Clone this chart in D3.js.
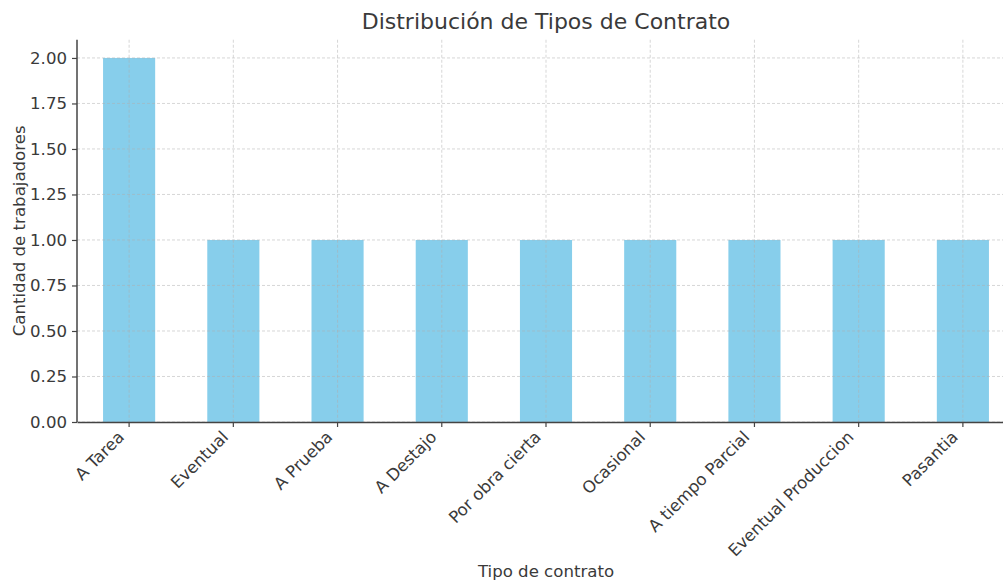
<!DOCTYPE html>
<html>
<head>
<meta charset="utf-8">
<script src="https://cdn.jsdelivr.net/npm/d3@7"></script>
<style>
  body { margin: 0; background: #fff; }
  svg { display: block; font-family: "DejaVu Sans", sans-serif; }
</style>
</head>
<body>
<div id="chart"></div>
<script>
const categories = ['A Tarea', 'Eventual', 'A Prueba', 'A Destajo', 'Por obra cierta',
  'Ocasional', 'A tiempo Parcial', 'Eventual Produccion', 'Pasantia'];
const counts = [2, 1, 1, 1, 1, 1, 1, 1, 1];
const yTicks = [0, 0.25, 0.5, 0.75, 1, 1.25, 1.5, 1.75, 2];

const width = 1003;
const height = 580;
const margin = { top: 39.75, right: -12, bottom: 158, left: 77 };
const textColor = '#3a3a3a';
const labelSize = 16.6;

const svg = d3.select('#chart')
  .append('svg')
  .attr('width', width)
  .attr('height', height);

const x = d3.scaleBand()
  .domain(categories)
  .range([margin.left, width - margin.right])
  .paddingInner(0.5)
  .paddingOuter(0.25);

const y = d3.scaleLinear()
  .domain([0, 2.1])
  .range([height - margin.bottom, margin.top]);

const x0 = margin.left, x1 = width - margin.right;
const y0 = y(0), yTop = y(2.1);

// Bars
svg.append('g')
  .selectAll('rect')
  .data(counts)
  .join('rect')
  .attr('x', (d, i) => x(categories[i]))
  .attr('y', d => y(d))
  .attr('width', x.bandwidth())
  .attr('height', d => y0 - y(d))
  .attr('fill', '#87ceeb');

// Grid (drawn over bars, dashed)
const grid = svg.append('g')
  .attr('stroke', '#b0b0b0')
  .attr('stroke-opacity', 0.5)
  .attr('stroke-width', 1)
  .attr('stroke-dasharray', '3,2');

grid.selectAll('.hg')
  .data(yTicks)
  .join('line')
  .attr('x1', x0).attr('x2', x1)
  .attr('y1', d => y(d)).attr('y2', d => y(d));

grid.selectAll('.vg')
  .data(categories)
  .join('line')
  .attr('x1', d => x(d) + x.bandwidth() / 2)
  .attr('x2', d => x(d) + x.bandwidth() / 2)
  .attr('y1', yTop).attr('y2', y0);

// Y axis
const yAxis = svg.append('g')
  .attr('transform', `translate(${x0},0)`)
  .call(d3.axisLeft(y).tickValues(yTicks).tickFormat(d3.format('.2f')).tickSize(5).tickPadding(5).tickSizeOuter(0));

// X axis
const xAxis = svg.append('g')
  .attr('transform', `translate(0,${y0})`)
  .call(d3.axisBottom(x).tickSize(5).tickSizeOuter(0));

[yAxis, xAxis].forEach(ax => {
  ax.attr('font-family', null).attr('font-size', null);
  ax.select('.domain').attr('stroke', '#444').attr('stroke-width', 1.5);
  ax.selectAll('.tick line').attr('stroke', '#444').attr('stroke-width', 1.2);
  ax.selectAll('.tick text').attr('fill', textColor).attr('font-size', labelSize);
});

// Full-height left spine
yAxis.select('.domain').attr('d', `M0,${yTop}V${y0}`);

xAxis.selectAll('.tick text')
  .attr('text-anchor', 'end')
  .attr('x', 0).attr('y', 0).attr('dy', 0)
  .attr('transform', 'translate(-4,16) rotate(-45)');

// Title and axis labels
svg.append('text')
  .attr('x', (x0 + x1) / 2)
  .attr('y', 29)
  .attr('text-anchor', 'middle')
  .attr('font-size', 22)
  .attr('fill', textColor)
  .text('Distribución de Tipos de Contrato');

svg.append('text')
  .attr('x', (x0 + x1) / 2)
  .attr('y', 577)
  .attr('text-anchor', 'middle')
  .attr('font-size', labelSize)
  .attr('fill', textColor)
  .text('Tipo de contrato');

svg.append('text')
  .attr('transform', `translate(25,${(yTop + y0) / 2}) rotate(-90)`)
  .attr('text-anchor', 'middle')
  .attr('font-size', labelSize)
  .attr('fill', textColor)
  .text('Cantidad de trabajadores');
</script>
</body>
</html>
